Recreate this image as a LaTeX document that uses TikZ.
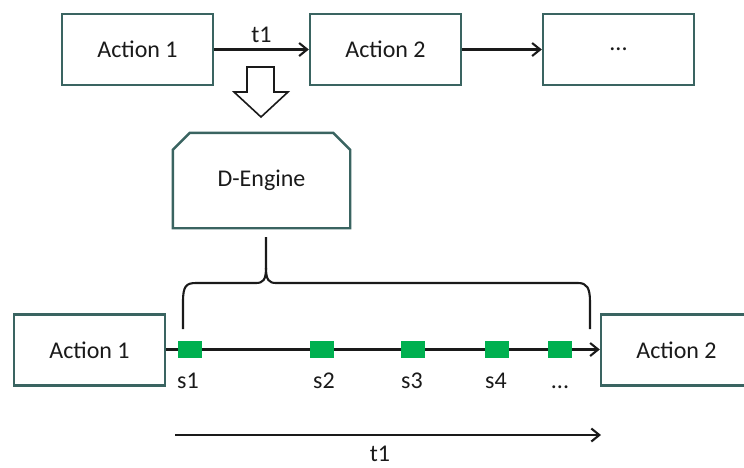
\documentclass[tikz,border=0pt]{standalone}
\usepackage{fontspec}
\setmainfont{Carlito}
\usetikzlibrary{arrows.meta}
\definecolor{boxline}{HTML}{3A6461}
\definecolor{stepgreen}{HTML}{00B050}
\definecolor{ink}{HTML}{1A1A1A}
\begin{document}
\begin{tikzpicture}[x=1pt,y=-1pt,
  txt/.style={font=\fontsize{24}{28}\selectfont, text=ink},
  actbox/.style={txt, draw=boxline, line width=2.4pt, fill=white,
    minimum width=151pt, minimum height=71pt, inner sep=0pt},
  conn/.style={draw=ink, line width=2.1pt,
    -{Straight Barb[length=8pt,width=13pt,line width=2.1pt]}},
  stepsq/.style={fill=stepgreen, draw=none, minimum width=24pt,
    minimum height=17pt, inner sep=0pt},
  steplbl/.style={txt, anchor=base, inner sep=0pt},
  bracepath/.style={draw=ink, line width=2.1pt, line join=round},
  hollow/.style={draw=ink, line width=1.6pt, fill=white, line join=miter}
]
\useasboundingbox (0,0) rectangle (744,467);
\clip (0,0) rectangle (744,467);

% upper row of actions
\node[actbox] (a1) at (137.5,49.5) {Action 1};
\node[actbox] (a2) at (385.5,49.5) {Action 2};
\node[actbox] (a3) at (618.5,49.5) {...};
\draw[conn] (a1) -- node[txt, above=6pt, inner sep=0pt] (t1top) {t1} (a2);
\draw[conn] (a2) -- (a3);

% hollow block arrow pointing down to the engine
\draw[hollow] (247,67) -- (274,67) -- (274,92) -- (288,92) -- (261,117)
  -- (234,92) -- (247,92) -- cycle;

% D-Engine block with chamfered top corners
\node[txt, minimum width=177pt, minimum height=95pt, inner sep=0pt]
  (deng) at (261.5,180.5) {D-Engine};
\draw[draw=boxline, line width=2.4pt, line join=miter]
  ([yshift=-17pt]deng.north west) -- ([xshift=17pt]deng.north west)
  -- ([xshift=-17pt]deng.north east) -- ([yshift=-17pt]deng.north east)
  -- (deng.south east) -- (deng.south west) -- cycle;

% brace from the engine over the sampled interval
\coordinate (btip) at (266,237);
\coordinate (bl) at (183,329);
\coordinate (br) at (590,329);
\draw[bracepath] (bl) -- (183,302) .. controls (183,286) and (186,283) .. (196,283)
  -- (256,283) .. controls (263,283) and (266,280) .. (266,268) -- (btip);
\draw[bracepath] (266,268) .. controls (266,280) and (269,283) .. (276,283)
  -- (578,283) .. controls (587,283) and (590,288) .. (590,302) -- (br);

% lower row: one transition sampled in steps
\node[actbox] (b1) at (89.5,350) {Action 1};
\node[actbox] (b2) at (676.5,350) {Action 2};
\draw[conn] (b1.east |- 0,349.5) -- (b2.west |- 0,349.5);

\node[stepsq] (s1) at (190,349.5) {};
\node[stepsq] (s2) at (322,349.5) {};
\node[stepsq] (s3) at (413,349.5) {};
\node[stepsq] (s4) at (497,349.5) {};
\node[stepsq] (s5) at (560,349.5) {};

\node[steplbl] (l1) at (188,388) {s1};
\node[steplbl] (l2) at (324,388) {s2};
\node[steplbl] (l3) at (412,388) {s3};
\node[steplbl] (l4) at (496,388) {s4};
\node[steplbl] (l5) at (560,388) {...};

% overall duration
\coordinate (tstart) at (175,435);
\coordinate (tend) at (601,435);
\draw[conn] (tstart) -- (tend);
\node[txt] (t1bot) at (380,454) {t1};
\end{tikzpicture}
\end{document}
